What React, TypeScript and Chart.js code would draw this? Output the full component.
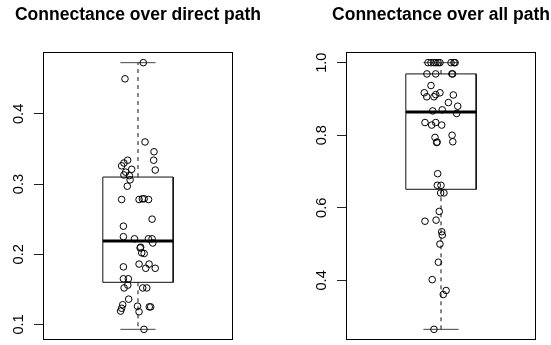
import React, { useEffect, useRef } from "react";
import { Chart, registerables } from "chart.js";

Chart.register(...registerables);

// ---------- data: "Connectance over direct path" ----------
const directTitle = "Connectance over direct path";
const directY = [
  0.473, 0.450, 0.360, 0.346, 0.334, 0.320, 0.334, 0.330, 0.326, 0.321,
  0.317, 0.313, 0.312, 0.306, 0.297, 0.278, 0.278, 0.279, 0.279, 0.278,
  0.250, 0.240, 0.225, 0.222, 0.222, 0.222, 0.216, 0.209, 0.210, 0.202,
  0.201, 0.186, 0.186, 0.180, 0.180, 0.182, 0.165, 0.165, 0.156, 0.152,
  0.152, 0.152, 0.136, 0.128, 0.123, 0.119, 0.126, 0.118, 0.125, 0.125,
  0.093,
];
const directJitter = [
  1.030, 0.926, 1.040, 1.091, 1.089, 1.098, 0.941, 0.920, 0.907, 0.964,
  0.930, 0.920, 0.951, 0.955, 0.939, 0.907, 1.006, 1.025, 1.035, 1.060,
  1.080, 0.917, 0.917, 0.980, 1.059, 1.080, 1.084, 1.012, 1.015, 1.021,
  1.035, 1.006, 1.063, 1.044, 1.098, 0.917, 0.917, 0.945, 0.942, 0.921,
  1.027, 1.050, 0.947, 0.913, 0.907, 0.901, 0.997, 1.006, 1.064, 1.072,
  1.034,
];
// [lower whisker, Q1, median, Q3, upper whisker]
const directBox = [0.093, 0.160, 0.219, 0.310, 0.473];
const directTicks = [0.1, 0.2, 0.3, 0.4];
const directRange = [0.0778, 0.4882];

// ---------- data: "Connectance over all path" ----------
const allTitle = "Connectance over all path";
const allY = [
  1.0, 1.0, 1.0, 1.0, 1.0, 1.0, 1.0, 1.0, 1.0,
  0.969, 0.969, 0.969, 0.969,
  0.937, 0.917, 0.906, 0.906, 0.912, 0.917, 0.911, 0.890, 0.880, 0.860,
  0.867, 0.870, 0.835, 0.828, 0.835, 0.828, 0.794, 0.780, 0.781, 0.800,
  0.782, 0.694, 0.662, 0.662, 0.641, 0.641, 0.590, 0.563, 0.566, 0.534,
  0.525, 0.500, 0.450, 0.402, 0.372, 0.361, 0.265,
];
const allJitter = [
  0.926, 0.943, 0.960, 0.971, 0.983, 0.994, 1.057, 1.074, 1.080,
  0.920, 0.970, 1.062, 1.066,
  0.943, 0.905, 0.919, 0.960, 0.970, 0.994, 1.070, 1.042, 1.095, 1.089,
  0.953, 1.007, 0.909, 0.947, 0.970, 1.004, 0.966, 0.975, 0.978, 1.063,
  1.067, 0.981, 0.979, 1.000, 0.998, 1.017, 0.990, 0.909, 0.972, 1.004,
  1.007, 0.994, 0.985, 0.950, 1.029, 1.013, 0.960,
];
const allBox = [0.265, 0.651, 0.864, 0.969, 1.0];
const allTicks = [0.4, 0.6, 0.8, 1.0];
const allRange = [0.2356, 1.0294];

const X_RANGE = [0.46, 1.54];
const BOX_HALF = 0.2;
const CAP_HALF = 0.1;
const FONT = '"Liberation Sans", Arial, Helvetica, sans-serif';

type PanelProps = {
  title: string;
  xs: number[];
  ys: number[];
  box: number[];
  ticks: number[];
  range: number[];
  width: number;
  padLeft: number;
  padRight: number;
  left: number;
};

function Panel(p: PanelProps) {
  const ref = useRef<HTMLCanvasElement>(null);
  useEffect(() => {
    if (!ref.current) return;
    const [lo, q1, med, q3, hi] = p.box;
    const bl = 1 - BOX_HALF;
    const br = 1 + BOX_HALF;
    const line = (data: { x: number; y: number }[], extra: any = {}) => ({
      type: "scatter",
      data,
      showLine: true,
      borderColor: "#111",
      borderWidth: 1,
      pointRadius: 0,
      fill: false,
      ...extra,
    });
    const decor = {
      id: "decor",
      afterDraw(chart: any) {
        const { ctx, chartArea: a } = chart;
        const ys = chart.scales.y;
        ctx.save();
        ctx.strokeStyle = "#000";
        ctx.lineWidth = 1;
        ctx.strokeRect(a.left + 0.5, a.top + 0.5, a.right - a.left - 1, a.bottom - a.top - 1);
        ctx.fillStyle = "#000";
        ctx.font = `14.6px ${FONT}`;
        ctx.textAlign = "center";
        ctx.textBaseline = "alphabetic";
        for (const v of p.ticks) {
          const y = ys.getPixelForValue(v);
          ctx.save();
          ctx.translate(a.left - 20.5, y);
          ctx.rotate(-Math.PI / 2);
          ctx.fillText(v.toFixed(1), 0, 0);
          ctx.restore();
        }
        ctx.font = `bold 17.5px ${FONT}`;
        ctx.fillText(p.title, (a.left + a.right) / 2, 20);
        ctx.restore();
      },
    };
    const chart = new Chart(ref.current, {
      type: "scatter",
      data: {
        datasets: [
          {
            type: "scatter",
            data: p.ys.map((y, i) => ({ x: p.xs[i], y })),
            pointRadius: 3.3,
            pointBorderWidth: 1,
            borderColor: "#000",
            backgroundColor: "rgba(0,0,0,0)",
            showLine: false,
          } as any,
          line([{ x: bl, y: med }, { x: br, y: med }], { borderWidth: 3, borderColor: "#000" }),
          line([
            { x: bl, y: q1 },
            { x: bl, y: q3 },
            { x: br, y: q3 },
            { x: br, y: q1 },
            { x: bl, y: q1 },
          ]),
          line([{ x: 1, y: q3 }, { x: 1, y: hi }], { borderDash: [4, 4] }),
          line([{ x: 1, y: q1 }, { x: 1, y: lo }], { borderDash: [4, 4] }),
          line([{ x: 1 - CAP_HALF, y: hi }, { x: 1 + CAP_HALF, y: hi }], { borderColor: "#444" }),
          line([{ x: 1 - CAP_HALF, y: lo }, { x: 1 + CAP_HALF, y: lo }], { borderColor: "#444" }),
        ],
      },
      options: {
        responsive: false,
        animation: false,
        events: [],
        layout: { padding: { left: p.padLeft, right: p.padRight, top: 52, bottom: 3 } },
        plugins: { legend: { display: false }, tooltip: { enabled: false }, title: { display: false } },
        scales: {
          x: { type: "linear", display: false, min: X_RANGE[0], max: X_RANGE[1] },
          y: {
            type: "linear",
            position: "left",
            min: p.range[0],
            max: p.range[1],
            afterBuildTicks: (s: any) => {
              s.ticks = p.ticks.map((v) => ({ value: v }));
            },
            afterFit: (s: any) => {
              s.width = 30;
            },
            ticks: { display: false },
            grid: { drawOnChartArea: false, drawTicks: true, tickLength: 9, color: "#222", lineWidth: 1 },
            border: { display: false },
          },
        },
      } as any,
      plugins: [decor],
    } as any);
    return () => chart.destroy();
  }, []);
  return (
    <canvas
      ref={ref}
      width={p.width}
      height={345}
      style={{ position: "absolute", left: p.left, top: 0, width: p.width, height: 345, display: "block" }}
    />
  );
}

export default function App() {
  return (
    <div style={{ position: "fixed", left: 0, top: 0, width: 551, height: 345, background: "#fff" }}>
      <Panel
        title={directTitle}
        xs={directJitter}
        ys={directY}
        box={directBox}
        ticks={directTicks}
        range={directRange}
        width={275}
        padLeft={13}
        padRight={42}
        left={0}
      />
      <Panel
        title={allTitle}
        xs={allJitter}
        ys={allY}
        box={allBox}
        ticks={allTicks}
        range={allRange}
        width={276}
        padLeft={41}
        padRight={15}
        left={275}
      />
    </div>
  );
}
